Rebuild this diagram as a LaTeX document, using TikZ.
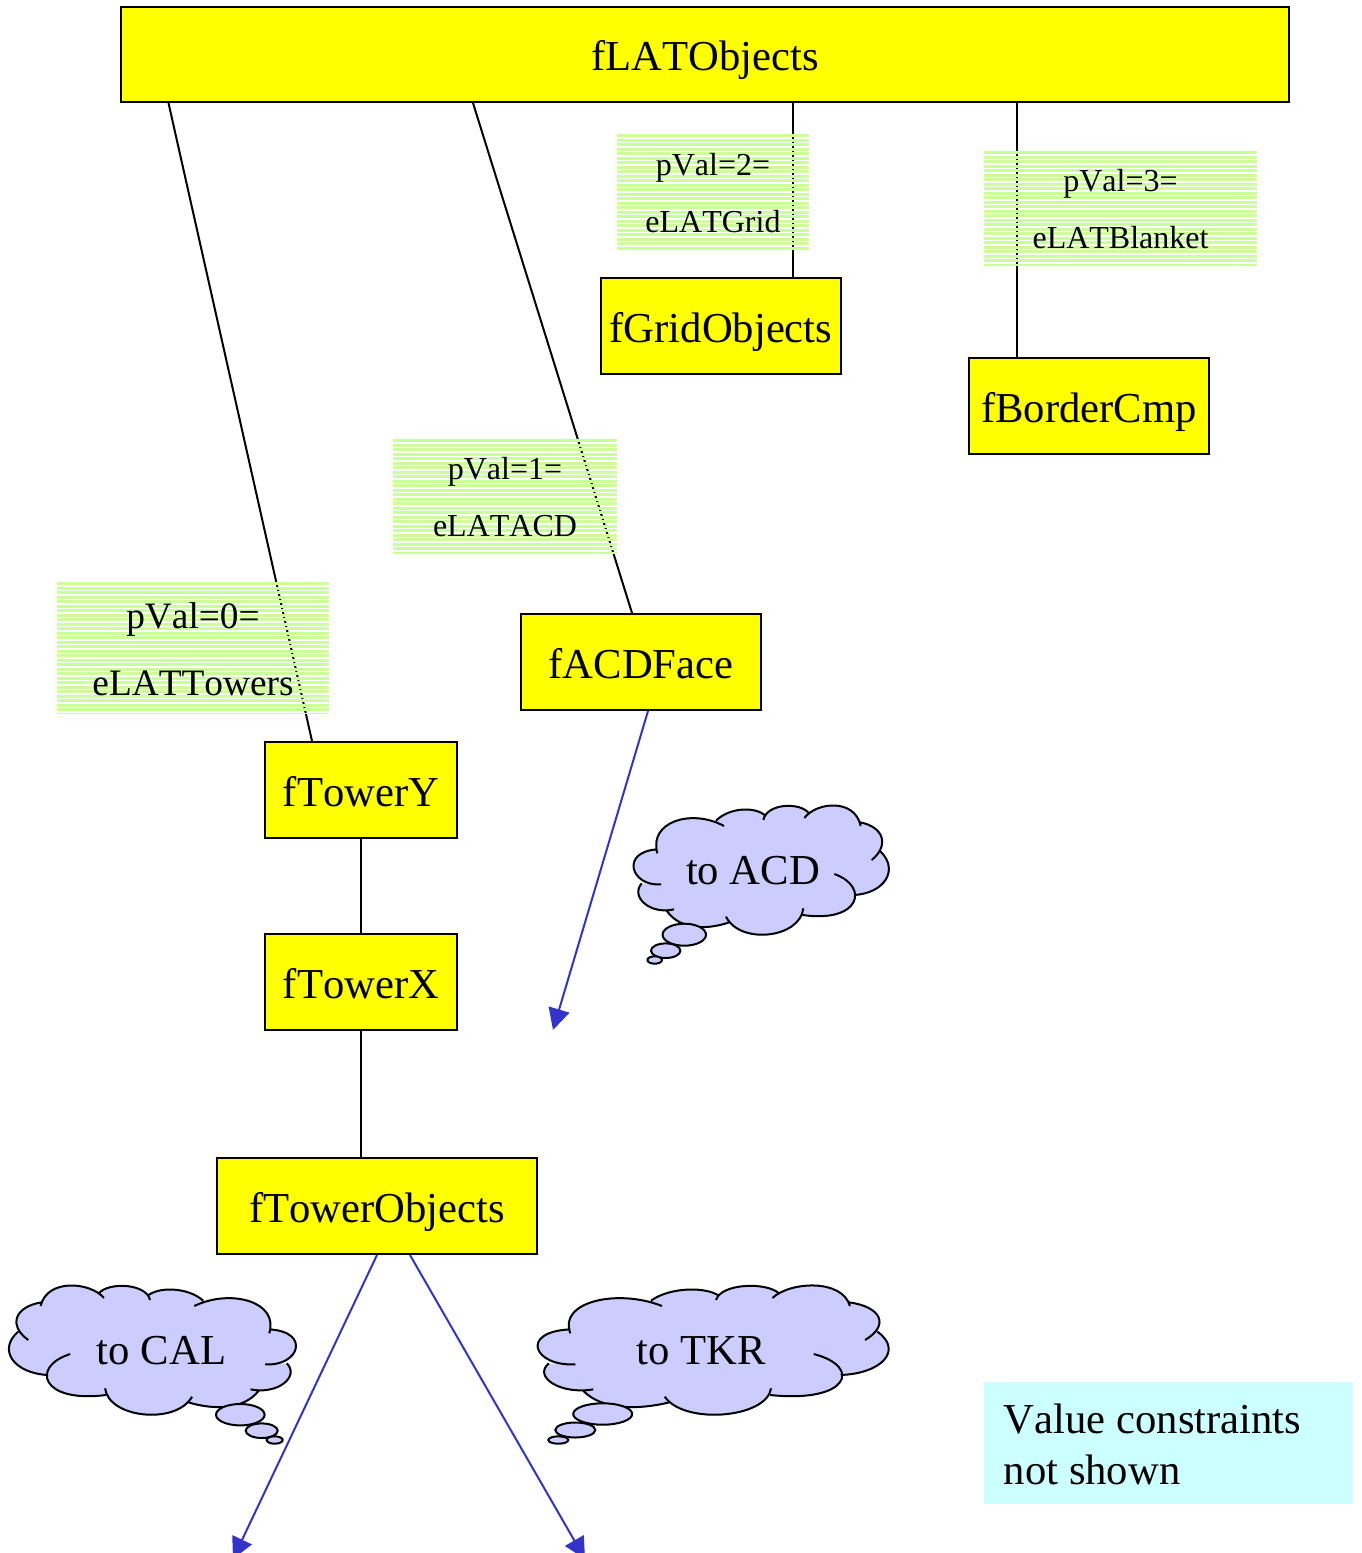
\documentclass[tikz,border=0pt]{standalone}
\usepackage{fontspec}
\setmainfont[Kerning=Off]{Liberation Serif}
\usetikzlibrary{arrows.meta}
\definecolor{boxyellow}{RGB}{255,255,0}
\definecolor{stripegreen}{RGB}{204,255,153}
\definecolor{cloudblue}{RGB}{204,204,255}
\definecolor{linkblue}{RGB}{51,51,204}
\definecolor{notecyan}{RGB}{204,255,255}
\tikzset{
	objbox/.style={draw=black,line width=1.5pt,fill=boxyellow,inner sep=0pt,text height=24.4pt,text depth=0pt,font=\fontsize{32}{38}\selectfont},
	link/.style={draw=black,line width=1.5pt},
	reflink/.style={draw=linkblue,line width=1.5pt,-{Triangle[length=16pt,width=16pt]}},
	cloudtext/.style={inner sep=0pt,font=\fontsize{32}{38}\selectfont},
	pvalbox/.style={inner sep=0pt,align=center,path picture={
		\foreach \k in {0,...,30}
			\draw[stripegreen,line width=2.6pt] ([yshift=-\k*3.375pt-1.3pt]path picture bounding box.north west) -- ([yshift=-\k*3.375pt-1.3pt]path picture bounding box.north east);
	}},
	cloudline/.style={draw=black,line width=1.5pt},
	tailbubble/.style={draw=black,line width=1.5pt,fill=cloudblue}
}
\newcommand{\cloudlobes}[1]{(172,190) .. controls (145,95) and (275,55) .. (372,108) #1
	(348,92) .. controls (390,50) and (470,50) .. (497,78) #1
	(490,90) .. controls (500,40) and (600,35) .. (627,70) #1
	(613,84) .. controls (650,35) and (765,25) .. (782,108) #1
	(780,97) .. controls (850,110) and (870,165) .. (815,210) #1
	(842,185) .. controls (898,240) and (853,310) .. (762,315) #1
	(703,252) .. controls (810,290) and (780,400) .. (608,375) #1
	(610,355) .. controls (600,445) and (420,465) .. (378,380) #1
	(388,397) .. controls (320,420) and (240,420) .. (200,362) #1
	(222,358) .. controls (150,375) and (90,320) .. (125,280) #1
	(183,283) .. controls (92,290) and (60,185) .. (172,178)}
\newcommand{\cloudshape}[1]{\begin{scope}[#1]
	\fill[cloudblue] \cloudlobes{--} -- cycle;
	\draw[cloudline] \cloudlobes{};
	\end{scope}}
\begin{document}
\begin{tikzpicture}[x=0.75pt,y=-0.75pt]
	\useasboundingbox (0,0) rectangle (1362,1553);
	\clip (0,0) rectangle (1362,1553);
	\node[objbox,minimum width=876pt,minimum height=71.25pt] (flatobjects) at (705,54.5) {fLATObjects};
	\node[objbox,minimum width=180pt,minimum height=72pt] (fgridobjects) at (721,326) {fGridObjects};
	\node[objbox,minimum width=180pt,minimum height=72pt] (fbordercmp) at (1089,406) {fBorderCmp};
	\node[objbox,minimum width=180pt,minimum height=72pt] (facdface) at (641,662) {fACDFace};
	\node[objbox,minimum width=144pt,minimum height=72pt] (ftowery) at (361,790) {fTowerY};
	\node[objbox,minimum width=144pt,minimum height=72pt] (ftowerx) at (361,982) {fTowerX};
	\node[objbox,minimum width=240pt,minimum height=72pt] (ftowerobjects) at (377,1206) {fTowerObjects};
	\draw[link] (flatobjects.south -| 168.5,0) -- (ftowery.north -| 312,0);
	\draw[link] (flatobjects.south -| 473,0) -- (facdface.north -| 632,0);
	\draw[link] (flatobjects.south -| 793,0) -- (fgridobjects.north -| 793,0);
	\draw[link] (flatobjects.south -| 1017,0) -- (fbordercmp.north -| 1017,0);
	\draw[link] (ftowery) -- (ftowerx);
	\draw[link] (ftowerx) -- (ftowerx |- ftowerobjects.north);
	\node[pvalbox,minimum width=204pt,minimum height=98.25pt,font=\fontsize{28}{50}\selectfont] (pval0) at (193,647.5) {\rule{0pt}{.78em}pVal=0=\\eLATTowers};
	\node[pvalbox,minimum width=168pt,minimum height=85.5pt,font=\fontsize{24}{43}\selectfont] (pval1) at (505,496) {\rule{0pt}{.78em}pVal=1=\\eLATACD};
	\node[pvalbox,minimum width=144pt,minimum height=86.25pt,font=\fontsize{24}{43}\selectfont] (pval2) at (713,191.5) {\rule{0pt}{.78em}pVal=2=\\eLATGrid};
	\node[pvalbox,minimum width=204.75pt,minimum height=85.5pt,font=\fontsize{24}{43}\selectfont] (pval3) at (1120.5,208) {\rule{0pt}{.78em}pVal=3=\\eLATBlanket};
	\coordinate (acdend) at (553,1030);
	\coordinate (calend) at (233,1559);
	\coordinate (tkrend) at (585,1559);
	\draw[reflink] (facdface.south -| 648,0) -- (acdend);
	\draw[reflink] (ftowerobjects.south) -- (calend);
	\draw[reflink] (ftowerobjects.south -| 410,0) -- (tkrend);
	\cloudshape{shift={(600,790)},x=0.25pt,y=-0.25pt}
	\cloudshape{shift={(491.5,1270)},x=0.34375pt,y=-0.25pt}
	\cloudshape{shift={(333.7,1270)},x=-0.2811pt,y=-0.25pt}
	\draw[tailbubble] (684.3,934.7) ellipse [x radius=21.7,y radius=11];
	\draw[tailbubble] (665.7,950.7) ellipse [x radius=14.7,y radius=7.3];
	\draw[tailbubble] (654.7,960) ellipse [x radius=7.3,y radius=3.7];
	\draw[tailbubble] (602.7,1414) ellipse [x radius=29.5,y radius=10.7];
	\draw[tailbubble] (575.3,1430) ellipse [x radius=20,y radius=7.5];
	\draw[tailbubble] (558.3,1440) ellipse [x radius=10,y radius=3.7];
	\draw[tailbubble] (240.3,1414.7) ellipse [x radius=24.3,y radius=10.7];
	\draw[tailbubble] (261.7,1430.7) ellipse [x radius=16,y radius=7.3];
	\draw[tailbubble] (274.7,1440) ellipse [x radius=8,y radius=3.7];
	\node[cloudtext] (toacd) at (753,871) {to ACD};
	\node[cloudtext] (tocal) at (161.5,1351) {to CAL};
	\node[cloudtext] (totkr) at (701,1351) {to TKR};
	\node[fill=notecyan,inner sep=0pt,text width=247pt,minimum width=276.75pt,minimum height=91.5pt,align=flush left,font=\fontsize{32}{38.4}\selectfont] (valuenote) at (1168.5,1443) {\rule{0pt}{.75em}Value constraints\\not shown};
\end{tikzpicture}
\end{document}
